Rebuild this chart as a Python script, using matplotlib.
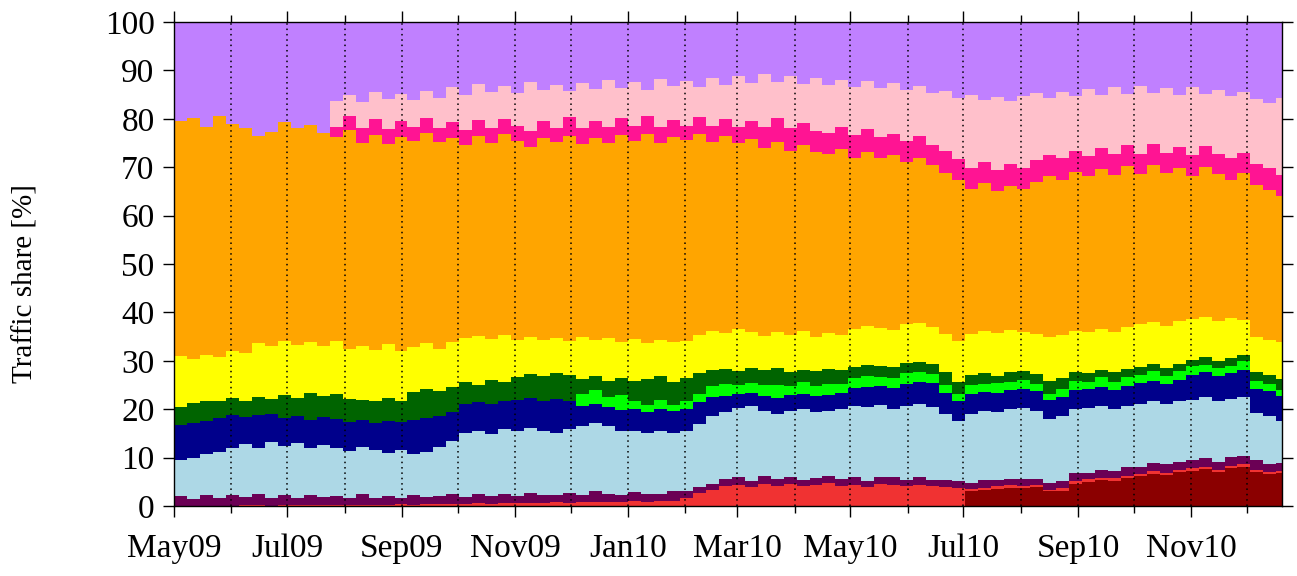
import numpy as np
import pandas as pd
import matplotlib
matplotlib.use('Agg')
import matplotlib.pyplot as plt
import matplotlib.dates as mdates

# weekly traffic share [%] per application class, first week starts 2009-05-01
week_edges = pd.date_range('2009-05-01', periods=87, freq='7D')

dark_red = [0.0] * 61 + [
    3.0, 3.4, 3.6, 3.8, 3.7, 3.9, 3.0, 3.2, 4.6,
    5.0, 5.4, 5.2, 5.8, 6.2, 6.6, 6.4, 7.0, 7.2, 7.6,
    7.0, 7.8, 8.0, 7.0, 6.6, 6.8]

red = [0.0, 0.0, 0.1, 0.1, 0.1, 0.2, 0.2, 0.1, 0.2, 0.2,
       0.2, 0.3, 0.2, 0.3, 0.3, 0.2, 0.3, 0.4, 0.3, 0.4,
       0.5, 0.4, 0.5, 0.6, 0.5, 0.6, 0.7, 0.6, 0.7, 0.8,
       0.7, 0.8, 0.9, 0.8, 0.9, 1.0, 0.9, 1.0, 1.1, 1.6,
       2.6, 3.4, 4.2, 4.4, 4.0, 4.6, 4.2, 4.5, 4.1, 4.3,
       4.7, 4.2, 4.4, 4.0, 4.5, 4.3, 4.1, 4.4, 4.2, 4.0,
       3.8, 0.5, 0.4, 0.5, 0.6, 0.4, 0.5, 0.4, 0.5, 0.6,
       0.5, 0.4, 0.6, 0.5, 0.5, 0.6, 0.4, 0.5, 0.6, 0.5,
       0.4, 0.5, 0.6, 0.5, 0.4, 0.5]

maroon = [2.0, 1.4, 2.2, 1.5, 2.1, 1.6, 2.2, 1.5, 2.0, 1.4,
          2.1, 1.6, 1.9, 1.3, 2.2, 1.5, 1.8, 1.2, 2.0, 1.5,
          1.6, 2.1, 1.4, 1.9, 1.5, 1.8, 1.3, 2.0, 1.6, 1.4,
          1.9, 1.5, 2.2, 1.7, 1.3, 1.8, 1.5, 1.4, 1.9, 1.6,
          1.4, 1.2, 1.3, 1.5, 1.2, 1.6, 1.3, 1.5, 1.2, 1.4,
          1.6, 1.3, 1.5, 1.2, 1.4, 1.7, 1.3, 1.5, 1.2, 1.4,
          1.3, 1.2, 1.5, 1.3, 1.1, 1.4, 1.2, 1.3, 1.5, 1.6,
          1.4, 1.7, 1.5, 1.8, 1.4, 1.6, 1.9, 1.5, 1.7, 1.8,
          1.6, 1.9, 1.7, 2.0, 1.6, 1.5]

light_blue = [7.5, 8.6, 8.5, 9.6, 9.8, 11.0, 9.6, 11.6, 10.2, 11.4,
              9.7, 10.7, 9.9, 9.8, 9.7, 9.8, 8.9, 10.0, 8.5, 9.3,
              10.1, 11.0, 13.1, 13.1, 12.8, 13.6, 13.4, 13.6, 13.2, 12.8,
              13.4, 14.3, 14.1, 14.0, 13.4, 12.6, 12.6, 13.2, 12.0, 12.4,
              13.0, 14.0, 14.0, 14.3, 15.4, 13.4, 13.5, 13.6, 14.7, 13.7,
              13.3, 14.5, 14.7, 15.2, 14.9, 14.0, 15.2, 15.1, 15.0, 13.6,
              12.5, 14.3, 14.3, 14.0, 14.5, 14.7, 14.0, 13.3, 13.4, 13.2,
              13.3, 13.1, 12.7, 12.5, 12.9, 12.8, 12.3, 12.6, 12.5, 12.7,
              12.6, 12.0, 12.3, 9.7, 10.0, 8.8]

navy = [7.3, 7.2, 6.8, 7.0, 6.8, 5.6, 6.9, 5.8, 5.8, 5.6,
        5.8, 5.8, 5.9, 6.0, 5.6, 5.7, 6.6, 5.8, 7.0, 7.0,
        6.4, 5.9, 6.0, 5.8, 6.2, 5.8, 6.6, 6.2, 6.3, 7.2,
        5.8, 4.0, 3.8, 3.9, 4.2, 4.6, 4.4, 4.4, 4.6, 4.4,
        4.4, 4.0, 3.3, 3.0, 2.8, 3.2, 3.4, 3.4, 3.2, 3.4,
        3.4, 3.4, 3.8, 4.2, 4.0, 4.4, 4.6, 4.6, 5.0, 4.4,
        4.2, 4.2, 4.0, 4.0, 4.0, 4.0, 4.2, 4.0, 4.0, 4.0,
        4.0, 4.0, 4.0, 4.2, 4.4, 4.2, 4.2, 4.4, 5.0, 5.0,
        5.2, 5.2, 5.4, 5.0, 5.2, 5.2]

lime = [0.0] * 31 + [
    2.6, 3.0, 2.2, 3.2, 1.8, 1.4, 2.0, 1.2, 1.6,
    1.8, 2.2, 2.4, 1.8, 2.0, 2.2, 2.6, 1.8, 2.4, 2.0,
    2.2, 1.8, 2.0, 2.2, 1.8, 2.0, 2.2, 2.0, 1.8, 1.6,
    1.4, 1.8, 1.6, 2.0, 1.6, 1.8, 1.4, 1.2, 1.6, 1.8,
    1.4, 2.0, 1.6, 1.8, 1.6, 2.0, 1.6, 1.8, 2.0, 1.6,
    1.8, 1.6, 2.0, 1.6, 1.4, 1.2]

dark_green = [3.6, 4.0, 4.0, 3.6, 3.6, 3.4, 3.7, 3.2, 4.8, 3.8,
              5.6, 4.4, 5.3, 4.8, 4.2, 4.4, 4.8, 4.4, 5.8, 6.0,
              5.2, 5.2, 4.6, 3.6, 5.0, 3.8, 4.6, 4.8, 5.0, 5.2,
              5.2, 3.0, 2.8, 3.2, 3.4, 4.0, 5.4, 4.8, 4.8, 4.8,
              4.2, 3.2, 3.2, 2.8, 3.2, 3.0, 3.6, 2.8, 2.6, 3.0,
              3.2, 2.8, 2.4, 2.4, 2.4, 2.4, 2.2, 2.2, 2.2, 2.6,
              2.4, 2.0, 2.2, 1.4, 2.0, 1.8, 2.0, 2.6, 2.2, 1.8,
              1.8, 1.6, 2.0, 1.8, 1.8, 1.6, 1.8, 1.6, 1.2, 1.6,
              1.4, 1.6, 1.2, 1.8, 1.8, 2.2]

yellow = [10.6, 9.2, 9.6, 9.0, 9.6, 9.8, 11.0, 10.8, 11.0, 10.8,
          10.4, 10.2, 10.8, 10.2, 11.0, 10.6, 11.0, 10.2, 9.2, 9.4,
          8.6, 9.2, 9.2, 10.2, 8.6, 9.8, 7.8, 7.8, 7.4, 7.4,
          7.0, 8.8, 7.6, 9.0, 7.4, 8.8, 7.4, 7.6, 8.2, 7.6,
          8.0, 8.2, 7.4, 8.8, 7.4, 7.2, 7.4, 7.8, 8.0, 7.2,
          7.4, 7.4, 7.8, 8.0, 7.8, 7.6, 8.0, 8.0, 7.6, 8.0,
          8.4, 8.6, 8.8, 9.0, 8.8, 8.2, 8.4, 9.2, 9.0, 8.6,
          8.6, 8.4, 8.4, 8.6, 8.8, 8.6, 8.6, 8.8, 8.4, 8.2,
          8.2, 8.2, 7.2, 7.4, 7.4, 7.6]

orange = [48.6, 49.8, 47.2, 49.8, 47.0, 46.4, 42.8, 44.2, 45.4, 44.8,
          45.0, 44.0, 42.2, 45.2, 42.0, 44.4, 41.4, 44.2, 42.6, 43.4,
          42.8, 42.2, 39.8, 41.2, 40.4, 41.4, 41.0, 39.2, 41.8, 40.4,
          42.4, 39.8, 41.6, 40.2, 42.8, 40.8, 43.2, 40.6, 42.4, 41.6,
          41.4, 39.0, 40.6, 38.4, 39.8, 38.8, 39.2, 38.0, 38.4, 38.2,
          37.0, 38.4, 35.4, 36.0, 35.0, 36.2, 33.4, 34.2, 33.4, 33.2,
          33.4, 30.0, 30.6, 29.2, 29.8, 29.4, 31.4, 33.2, 32.0, 32.8,
          32.2, 33.0, 32.4, 33.2, 31.0, 32.4, 31.6, 31.6, 29.6, 31.0,
          30.4, 28.6, 30.4, 31.4, 30.8, 30.2]

deep_pink = [0.0] * 12 + [
    2.2, 3.0, 3.2, 3.4, 3.0, 3.4, 3.0, 3.2,
    2.8, 3.4, 3.0, 3.4, 3.2, 3.2, 3.2, 3.2, 3.6, 3.0,
    4.0, 3.2, 3.6, 3.4, 3.6, 3.2, 3.8, 3.4, 3.6, 3.0,
    3.6, 3.4, 3.6, 3.4, 3.8, 4.4, 5.0, 4.6, 4.6, 4.2,
    4.2, 4.6, 4.6, 4.6, 4.4, 4.2, 4.4, 4.4, 4.2, 4.6,
    4.2, 4.2, 4.2, 4.4, 4.4, 4.4, 4.4, 4.4, 4.4, 4.4,
    4.2, 4.4, 4.4, 4.4, 4.2, 4.4, 4.2, 4.4, 4.4, 4.4,
    4.2, 4.4, 4.2, 4.2, 4.6, 4.4]

pink = [0.0] * 12 + [
    5.2, 4.4, 5.2, 5.6, 6.2, 5.6, 5.4, 5.6,
    6.4, 7.2, 7.4, 7.4, 7.4, 6.8, 6.8, 10.2, 6.4, 8.8,
    5.4, 9.4, 6.6, 9.6, 6.2, 9.0, 5.4, 9.8, 7.0, 9.2,
    6.2, 9.8, 7.0, 10.4, 7.8, 10.8, 7.4, 10.8, 8.0, 11.0,
    10.0, 9.6, 10.0, 10.0, 10.2, 10.6, 10.6, 10.4, 10.8, 12.4,
    12.8, 15.2, 12.8, 15.2, 13.0, 15.0, 14.0, 11.6, 13.8, 11.4,
    13.8, 11.0, 13.8, 10.6, 14.0, 10.6, 13.4, 10.8, 14.0, 10.8,
    13.2, 13.0, 12.6, 13.4, 13.4, 15.8]

classes = [dark_red, red, maroon, light_blue, navy, lime,
           dark_green, yellow, orange, deep_pink, pink]
colors = ['#8b0000', '#f03232', '#6b0055', '#add8e6', '#00008b', '#00ff00',
          '#006400', '#ffff00', '#ffa500', '#ff1493', '#ffc0cb', '#c080ff']

shares = np.array(classes)
# everything not in a named class is "other" (top band)
other = 100.0 - shares.sum(axis=0)
shares = np.vstack([shares, other])
tops = np.cumsum(shares, axis=0)

x_edges = mdates.date2num(week_edges.to_pydatetime())

fig = plt.figure(figsize=(12.97, 5.76), dpi=100)
ax = fig.add_axes([0.1342, 0.1215, 0.8542, 0.8403])

# draw highest band first, lower bands painted over it (no seams)
for i in range(len(tops) - 1, -1, -1):
    ax.stairs(tops[i], x_edges, baseline=0, fill=True, color=colors[i],
              linewidth=0, zorder=1)

ax.set_xlim(mdates.date2num(pd.Timestamp('2009-05-01')),
            mdates.date2num(pd.Timestamp('2010-12-20')))
ax.set_ylim(0, 100)
ax.set_yticks(np.arange(0, 101, 10))

ax.xaxis.set_major_locator(mdates.MonthLocator(bymonth=[1, 3, 5, 7, 9, 11]))
ax.xaxis.set_major_formatter(mdates.DateFormatter('%b%y'))
ax.xaxis.set_minor_locator(mdates.MonthLocator())

ax.grid(True, which='both', axis='x', color='black', linestyle=(0, (1, 2.5)),
        linewidth=1.1, zorder=3)
ax.set_axisbelow(False)

ax.tick_params(which='major', direction='out', length=8, width=1,
               top=True, right=True, labelsize=24)
ax.tick_params(axis='x', which='major', pad=12)
ax.tick_params(axis='y', which='major', pad=6)
ax.tick_params(which='minor', direction='out', length=5, width=1,
               top=True, right=True)
for lab in ax.get_xticklabels() + ax.get_yticklabels():
    lab.set_fontfamily('Liberation Serif')

ax.set_ylabel('Traffic share [%]', fontsize=21, family='Liberation Serif')
ax.yaxis.set_label_coords(-0.122, 0.46)
for s in ax.spines.values():
    s.set_linewidth(1)
    s.set_zorder(4)

fig.savefig('out.png', dpi=100)
